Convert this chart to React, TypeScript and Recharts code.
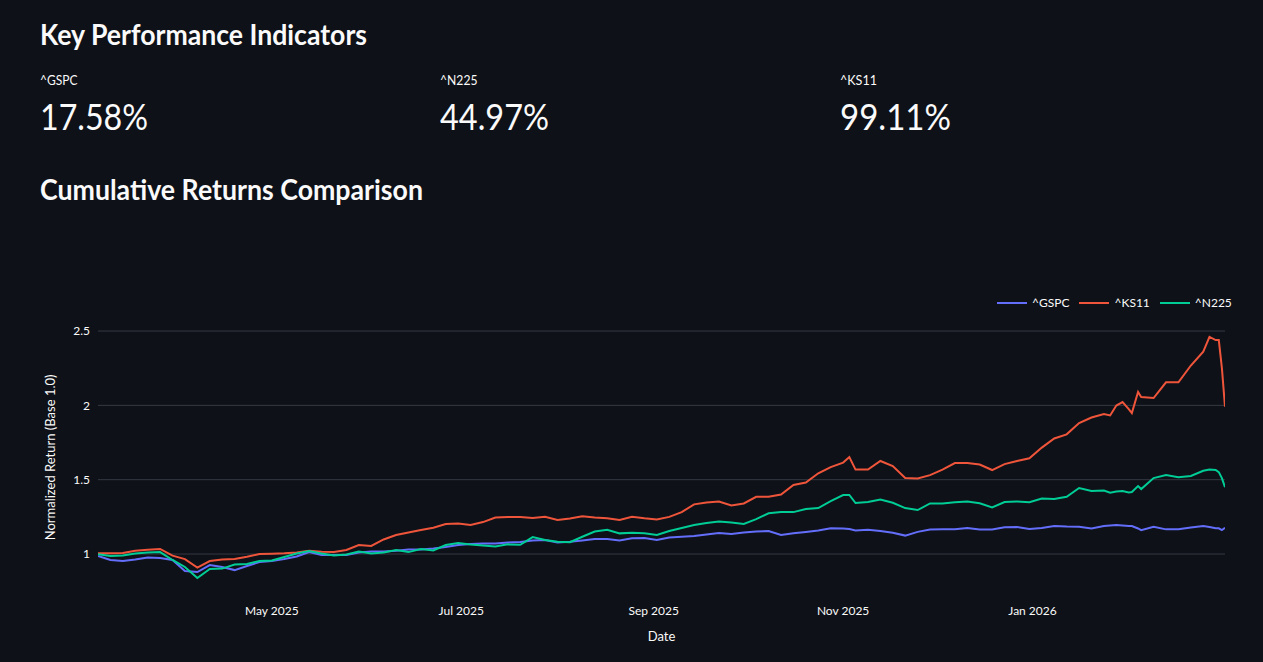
import React from 'react';
import { LineChart, Line, XAxis, YAxis, ReferenceLine } from 'recharts';

const dates = [
  '2025-03-06','2025-03-10','2025-03-14','2025-03-18','2025-03-22','2025-03-26','2025-03-30','2025-04-03','2025-04-07','2025-04-11',
  '2025-04-15','2025-04-19','2025-04-23','2025-04-27','2025-05-01','2025-05-05','2025-05-09','2025-05-13','2025-05-17','2025-05-21',
  '2025-05-25','2025-05-29','2025-06-02','2025-06-06','2025-06-10','2025-06-14','2025-06-18','2025-06-22','2025-06-26','2025-06-30',
  '2025-07-04','2025-07-08','2025-07-12','2025-07-16','2025-07-20','2025-07-24','2025-07-28','2025-08-01','2025-08-05','2025-08-09',
  '2025-08-13','2025-08-17','2025-08-21','2025-08-25','2025-08-29','2025-09-02','2025-09-06','2025-09-10','2025-09-14','2025-09-18',
  '2025-09-22','2025-09-26','2025-09-30','2025-10-04','2025-10-08','2025-10-12','2025-10-16','2025-10-20','2025-10-24','2025-10-28',
  '2025-11-01','2025-11-03','2025-11-05','2025-11-09','2025-11-13','2025-11-17','2025-11-21','2025-11-25','2025-11-29','2025-12-03',
  '2025-12-07','2025-12-11','2025-12-15','2025-12-19','2025-12-23','2025-12-27','2025-12-31','2026-01-04','2026-01-08','2026-01-12',
  '2026-01-16','2026-01-20','2026-01-24','2026-01-26','2026-01-28','2026-01-30','2026-02-01','2026-02-02','2026-02-04','2026-02-05',
  '2026-02-09','2026-02-13','2026-02-17','2026-02-21','2026-02-25','2026-02-27','2026-03-01','2026-03-02','2026-03-03','2026-03-04',
];

const gspc = [
  0.987,0.960,0.953,0.963,0.976,0.973,0.960,0.886,0.879,0.926,
  0.913,0.892,0.919,0.946,0.953,0.966,0.983,1.013,0.993,0.993,
  0.993,1.010,1.017,1.017,1.022,1.030,1.030,1.037,1.047,1.061,
  1.067,1.071,1.071,1.077,1.081,1.091,1.094,1.077,1.082,1.091,
  1.101,1.101,1.091,1.106,1.108,1.094,1.111,1.116,1.121,1.131,
  1.141,1.135,1.145,1.151,1.155,1.128,1.140,1.149,1.159,1.173,
  1.172,1.168,1.158,1.163,1.155,1.143,1.124,1.149,1.165,1.166,
  1.166,1.175,1.165,1.165,1.180,1.182,1.169,1.175,1.188,1.185,
  1.184,1.172,1.188,1.192,1.195,1.192,1.188,1.188,1.172,1.161,
  1.184,1.166,1.166,1.178,1.188,1.182,1.173,1.173,1.161,1.176,
];

const ks11 = [
  1.005,1.005,1.007,1.022,1.029,1.034,0.989,0.966,0.909,0.953,
  0.964,0.966,0.982,1.000,1.002,1.005,1.011,1.022,1.015,1.013,
  1.027,1.061,1.054,1.098,1.128,1.145,1.161,1.177,1.202,1.205,
  1.195,1.215,1.246,1.249,1.249,1.242,1.251,1.229,1.239,1.254,
  1.246,1.241,1.229,1.250,1.240,1.232,1.250,1.282,1.334,1.346,
  1.353,1.326,1.340,1.385,1.385,1.400,1.464,1.481,1.543,1.585,
  1.615,1.652,1.568,1.568,1.626,1.592,1.511,1.508,1.531,1.568,
  1.612,1.612,1.602,1.565,1.605,1.626,1.644,1.716,1.777,1.805,
  1.881,1.918,1.942,1.932,1.999,2.022,1.975,1.948,2.090,2.056,
  2.049,2.155,2.155,2.268,2.361,2.460,2.439,2.439,2.251,1.991,
];

const n225 = [
  0.998,0.987,0.990,1.003,1.010,1.013,0.960,0.913,0.839,0.899,
  0.902,0.929,0.933,0.953,0.956,0.980,1.003,1.020,1.003,0.990,
  0.997,1.017,1.003,1.010,1.027,1.013,1.034,1.024,1.061,1.074,
  1.064,1.057,1.050,1.065,1.062,1.114,1.094,1.082,1.079,1.116,
  1.151,1.163,1.139,1.143,1.139,1.128,1.155,1.175,1.195,1.209,
  1.219,1.212,1.202,1.235,1.274,1.282,1.282,1.303,1.309,1.356,
  1.397,1.397,1.343,1.350,1.367,1.345,1.309,1.296,1.340,1.340,
  1.348,1.353,1.341,1.313,1.350,1.353,1.348,1.373,1.370,1.385,
  1.444,1.424,1.427,1.412,1.420,1.424,1.414,1.417,1.457,1.437,
  1.511,1.531,1.516,1.525,1.560,1.568,1.565,1.551,1.511,1.450,
];

const seriesKeys = ['gspc', 'ks11', 'n225'];
const seriesNames = ['^GSPC', '^KS11', '^N225'];
const seriesColors = ['#636EFA', '#EF553B', '#00CC96'];

const yTicks = [1, 1.5, 2, 2.5];
const xTickDates = ['2025-05-01', '2025-07-01', '2025-09-01', '2025-11-01', '2026-01-01'];
const monthNames = ['Jan', 'Feb', 'Mar', 'Apr', 'May', 'Jun', 'Jul', 'Aug', 'Sep', 'Oct', 'Nov', 'Dec'];

const kpiLabels = ['^GSPC', '^N225', '^KS11'];
const kpiValues = ['17.58%', '44.97%', '99.11%'];
const kpiLabelWidths = [37.5, 37.5, 37];
const kpiValueWidths = [108, 109, 111];

const FONT = "'Source Sans Pro', Lato, 'Noto Sans', sans-serif";
const TEXT = '#fafafa';

const toTs = (s: string) => Date.parse(s + 'T00:00:00Z');
const data = dates.map((d, i) => ({ t: toTs(d), gspc: gspc[i], ks11: ks11[i], n225: n225[i] }));
const xTicks = xTickDates.map(toTs);
const fmtX = (v: number) => {
  const d = new Date(v);
  return `${monthNames[d.getUTCMonth()]} ${d.getUTCFullYear()}`;
};
const fmtY = (v: number) => String(v);

function LegendBox() {
  return (
    <div style={{ position: 'absolute', left: 997, top: 295, display: 'flex', alignItems: 'center',
      fontFamily: FONT, fontSize: 12, color: TEXT, lineHeight: '16px' }}>
      {seriesNames.map((n, i) => (
        <div key={n} style={{ display: 'flex', alignItems: 'center', marginRight: 10 }}>
          <svg width={30} height={10} style={{ marginRight: 5 }}>
            <line x1={0} y1={5} x2={30} y2={5} stroke={seriesColors[i]} strokeWidth={2} />
          </svg>
          <span>{n}</span>
        </div>
      ))}
    </div>
  );
}

export default function App() {
  return (
    <div style={{ position: 'relative', width: 1263, height: 662, background: '#0e1117', overflow: 'hidden' }}>
      <style>{'body{margin:0;background:#0e1117}'}</style>
      <svg width={1263} height={220} style={{ position: 'absolute', left: 0, top: 0 }}>
        <text x={40} y={45} fill={TEXT} fontFamily={FONT} fontSize={28} fontWeight={700}
          textLength={327} lengthAdjust="spacingAndGlyphs">Key Performance Indicators</text>
        {kpiLabels.map((l, i) => (
          <text key={l} x={40 + 400 * i} y={85} fill={TEXT} fontFamily={FONT} fontSize={14}
            textLength={kpiLabelWidths[i]} lengthAdjust="spacingAndGlyphs">{l}</text>
        ))}
        {kpiValues.map((v, i) => (
          <text key={v} x={40 + 400 * i} y={129.5} fill={TEXT} fontFamily={FONT} fontSize={36}
            textLength={kpiValueWidths[i]} lengthAdjust="spacingAndGlyphs">{v}</text>
        ))}
        <text x={40} y={199.5} fill={TEXT} fontFamily={FONT} fontSize={28} fontWeight={700}
          textLength={383} lengthAdjust="spacingAndGlyphs">Cumulative Returns Comparison</text>
      </svg>
      <div style={{ position: 'absolute', left: 0, top: 0 }}>
        <LineChart width={1263} height={662} data={data}
          margin={{ top: 323.6, right: 38, bottom: 20.8, left: 38 }}>
          <XAxis dataKey="t" type="number" domain={[data[0].t, data[data.length - 1].t]}
            ticks={xTicks} tickFormatter={fmtX} axisLine={false} tickLine={false} tickMargin={9}
            height={50} allowDataOverflow
            tick={{ fill: TEXT, fontSize: 12, fontFamily: FONT }}
            label={{ value: 'Date', position: 'insideBottom', offset: 0, fill: TEXT, fontSize: 13, fontFamily: FONT }} />
          <YAxis type="number" domain={[0.75, 2.55]} ticks={yTicks} tickFormatter={fmtY}
            axisLine={false} tickLine={false} width={60} allowDataOverflow
            tick={{ fill: TEXT, fontSize: 12, fontFamily: FONT }}
            label={{ value: 'Normalized Return (Base 1.0)', angle: -90, position: 'insideLeft', offset: 12,
              fill: TEXT, fontSize: 13, fontFamily: FONT, style: { textAnchor: 'middle' } }} />
          {yTicks.map((t) => (
            <ReferenceLine key={t} y={t} stroke="#363943" strokeWidth={1} />
          ))}
          {seriesKeys.map((k, i) => (
            <Line key={k} type="linear" dataKey={k} name={seriesNames[i]} stroke={seriesColors[i]}
              strokeWidth={2} dot={false} activeDot={false} isAnimationActive={false} />
          ))}
        </LineChart>
      </div>
      <LegendBox />
    </div>
  );
}
